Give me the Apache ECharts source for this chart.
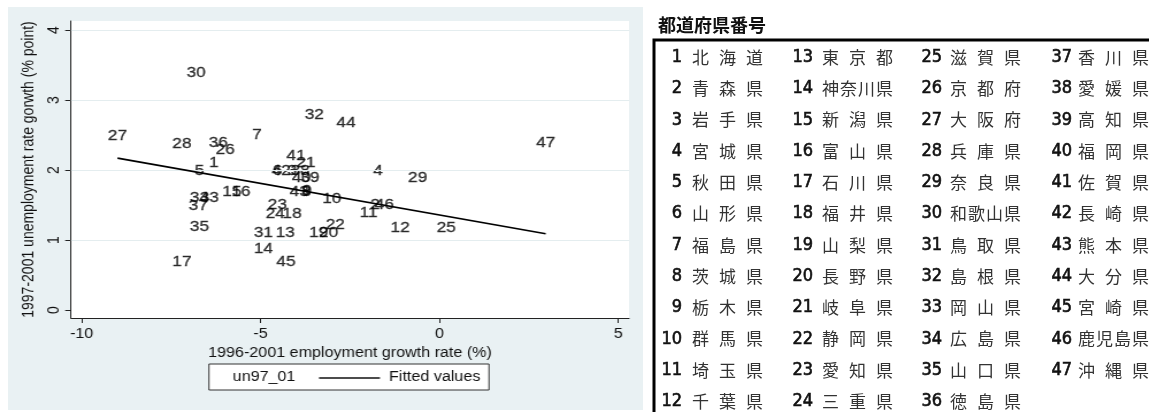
<!DOCTYPE html>
<html>
<head>
<meta charset="utf-8">
<script src="https://cdn.jsdelivr.net/npm/echarts@6/dist/echarts.min.js"></script>
<style>
  html, body { margin: 0; padding: 0; background: #fff; width: 1149px; height: 412px; overflow: hidden; }
  #region { position: absolute; left: 8px; top: 7px; width: 635px; height: 403px; background: #e9f1f3; }
  /* the scatter panel is drawn narrow and widened, as in the exported Stata graph */
  #scatter { position: absolute; left: 0; top: 0; width: 560px; height: 412px; transform: scaleX(1.15); transform-origin: 0 0; }
  #table { position: absolute; left: 644px; top: 0; width: 505px; height: 412px; }
</style>
</head>
<body>
<div id="region"></div>
<div id="scatter"></div>
<div id="table"></div>
<script>
// Prefecture names in code order 1..47
const prefNames = [
  '北海道', '青森県', '岩手県', '宮城県', '秋田県', '山形県', '福島県', '茨城県', '栃木県', '群馬県',
  '埼玉県', '千葉県', '東京都', '神奈川県', '新潟県', '富山県', '石川県', '福井県', '山梨県', '長野県',
  '岐阜県', '静岡県', '愛知県', '三重県', '滋賀県', '京都府', '大阪府', '兵庫県', '奈良県', '和歌山県',
  '鳥取県', '島根県', '岡山県', '広島県', '山口県', '徳島県', '香川県', '愛媛県', '高知県', '福岡県',
  '佐賀県', '長崎県', '熊本県', '大分県', '宮崎県', '鹿児島県', '沖縄県'
];

// 1996-2001 employment growth rate (%), prefectures 1..47
const empGrowth = [
  -6.31, -1.80, -4.12, -1.72, -6.71, -4.53, -5.10, -3.72, -3.70, -3.01,
  -1.98, -1.10, -4.31, -4.92, -5.80, -5.55, -7.20, -4.12, -3.38, -3.10,
  -3.73, -2.91, -4.53, -4.59,  0.19, -5.99, -9.00, -7.20, -0.61, -6.80,
  -4.92, -3.50, -6.43, -6.71, -6.71, -6.18, -6.74, -3.89, -3.62, -3.86,
  -4.01, -4.42, -3.92, -2.61, -4.29, -1.54,  2.97
];

// 1997-2001 unemployment rate growth (% point), prefectures 1..47
const unempGrowth = [
  2.10, 1.50, 1.99, 1.99, 1.99, 1.99, 2.50, 1.69, 1.70, 1.59,
  1.39, 1.18, 1.10, 0.88, 1.69, 1.69, 0.69, 1.38, 1.10, 1.10,
  2.10, 1.21, 1.50, 1.38, 1.18, 2.29, 2.49, 2.38, 1.89, 3.39,
  1.10, 2.79, 1.60, 1.60, 1.19, 2.39, 1.49, 1.99, 1.89, 1.89,
  2.20, 1.99, 1.69, 2.68, 0.69, 1.50, 2.39
];

// Fitted values line, end points at the smallest and largest x
const fitX = [-9.00, 2.97];
const fitY = [2.17, 1.09];

const xTicks = [-10, -5, 0, 5];
const yTicks = [0, 1, 2, 3, 4];
const yGrid = [1, 2, 3, 4];

const xTitle = '1996-2001 employment growth rate (%)';
const yTitle = '1997-2001 unemployment rate gorwth (% point)';
const legendNames = ['un97_01', 'Fitted values'];
const tableTitle = '都道府県番号';

const latin = 'Liberation Sans, Arial, sans-serif';
const ink = '#111';

const scatterChart = echarts.init(document.getElementById('scatter'), null, { renderer: 'canvas' });

const points = empGrowth.map((x, i) => ({ value: [x, unempGrowth[i]], name: String(i + 1) }));

scatterChart.setOption({
  backgroundColor: 'transparent',
  animation: false,
  grid: { left: 61.7, right: 13, top: 21, bottom: 94, show: true, backgroundColor: '#fff', borderWidth: 0 },
  xAxis: {
    type: 'value', min: -10.3, max: 5.3,
    axisLine: { show: true, onZero: false, lineStyle: { color: '#222', width: 1 } },
    axisTick: { show: true, length: 5, customValues: xTicks, lineStyle: { color: '#222' } },
    axisLabel: { customValues: xTicks, margin: 9, fontFamily: latin, fontSize: 14, color: ink },
    splitLine: { show: false },
    name: xTitle, nameLocation: 'middle', nameGap: 23,
    nameTextStyle: { fontFamily: latin, fontSize: 14, color: ink }
  },
  yAxis: {
    type: 'value', min: -0.114, max: 4.129,
    axisLine: { show: true, onZero: false, lineStyle: { color: '#222', width: 1 } },
    axisTick: { show: true, length: 5, customValues: yTicks, lineStyle: { color: '#222' } },
    axisLabel: { customValues: yTicks, rotate: 90, margin: 8, fontFamily: latin, fontSize: 14, color: ink },
    splitLine: { show: false },
    name: yTitle, nameLocation: 'middle', nameRotate: 90, nameGap: 22,
    nameTextStyle: { fontFamily: latin, fontSize: 14, color: ink }
  },
  series: [
    {
      name: legendNames[0], type: 'scatter', silent: true, z: 2,
      symbol: 'circle', symbolSize: 1,
      itemStyle: { color: 'rgba(0,0,0,0)' },
      label: {
        show: true, position: 'inside', formatter: p => p.name,
        fontFamily: latin, fontSize: 15, color: '#000',
        textBorderColor: '#000', textBorderWidth: 0.3
      },
      emphasis: { disabled: true },
      data: points,
      markLine: {
        silent: true, symbol: ['none', 'none'], animation: false,
        label: { show: false },
        lineStyle: { color: '#e4edef', width: 1, type: 'solid' },
        emphasis: { disabled: true },
        data: yGrid.map(v => ({ yAxis: v }))
      }
    },
    {
      name: legendNames[1], type: 'line', silent: true, z: 5,
      showSymbol: false, symbol: 'none',
      lineStyle: { color: '#000', width: 1.6 },
      emphasis: { disabled: true },
      data: fitX.map((x, i) => [x, fitY[i]])
    }
  ],
  graphic: [
    { type: 'rect', shape: { x: 181.7, y: 364, width: 243.5, height: 26 }, style: { fill: '#fff', stroke: '#333', lineWidth: 1 } },
    { type: 'text', x: 229.6, y: 377.5, style: { text: legendNames[0], align: 'center', textAlign: 'center', verticalAlign: 'middle', textVerticalAlign: 'middle', font: '14px ' + latin, fill: ink } },
    { type: 'line', shape: { x1: 277.4, y1: 378, x2: 330.4, y2: 378 }, style: { stroke: '#111', lineWidth: 1.4 } },
    { type: 'text', x: 338.3, y: 377.5, style: { text: legendNames[1], align: 'left', textAlign: 'left', verticalAlign: 'middle', textVerticalAlign: 'middle', font: '14px ' + latin, fill: ink } }
  ]
});

// Prefecture code table
const tableChart = echarts.init(document.getElementById('table'), null, { renderer: 'canvas' });
const cjk = '"Noto Sans CJK JP", sans-serif';
const narrow = '"DejaVu Sans Condensed", "Liberation Sans Narrow", "Noto Sans CJK JP", sans-serif';
const numRight = [38, 169, 298, 428];
const nameLeft = [48, 178, 306, 434];
const nameSpan = 71, cjkSize = 17;
const rowTop = 57.3, rowStep = 31.3, rowsPerCol = 12;

const cells = [
  { type: 'rect', shape: { x: 10, y: 40, width: 520, height: 400 }, style: { fill: '#fff', stroke: '#000', lineWidth: 3 } },
  { type: 'text', x: 14, y: 25, style: { text: tableTitle, align: 'left', textAlign: 'left', verticalAlign: 'middle', textVerticalAlign: 'middle', font: 'bold 18px ' + cjk, fill: '#111' } }
];
prefNames.forEach((nm, i) => {
  const c = Math.floor(i / rowsPerCol), r = i % rowsPerCol;
  const y = rowTop + r * rowStep;
  cells.push({ type: 'text', x: numRight[c], y: y,
    style: { text: String(i + 1), align: 'right', textAlign: 'right', verticalAlign: 'middle', textVerticalAlign: 'middle', font: '18px ' + narrow, fill: '#111', stroke: '#111', lineWidth: 0.6 } });
  const chars = Array.from(nm);
  const step = (nameSpan - cjkSize) / (chars.length - 1);
  chars.forEach((ch, k) => {
    cells.push({ type: 'text', x: nameLeft[c] + k * step, y: y,
      style: { text: ch, align: 'left', textAlign: 'left', verticalAlign: 'middle', textVerticalAlign: 'middle', font: cjkSize + 'px ' + cjk, fill: '#333' } });
  });
});
tableChart.setOption({ animation: false, graphic: cells });
</script>
</body>
</html>
